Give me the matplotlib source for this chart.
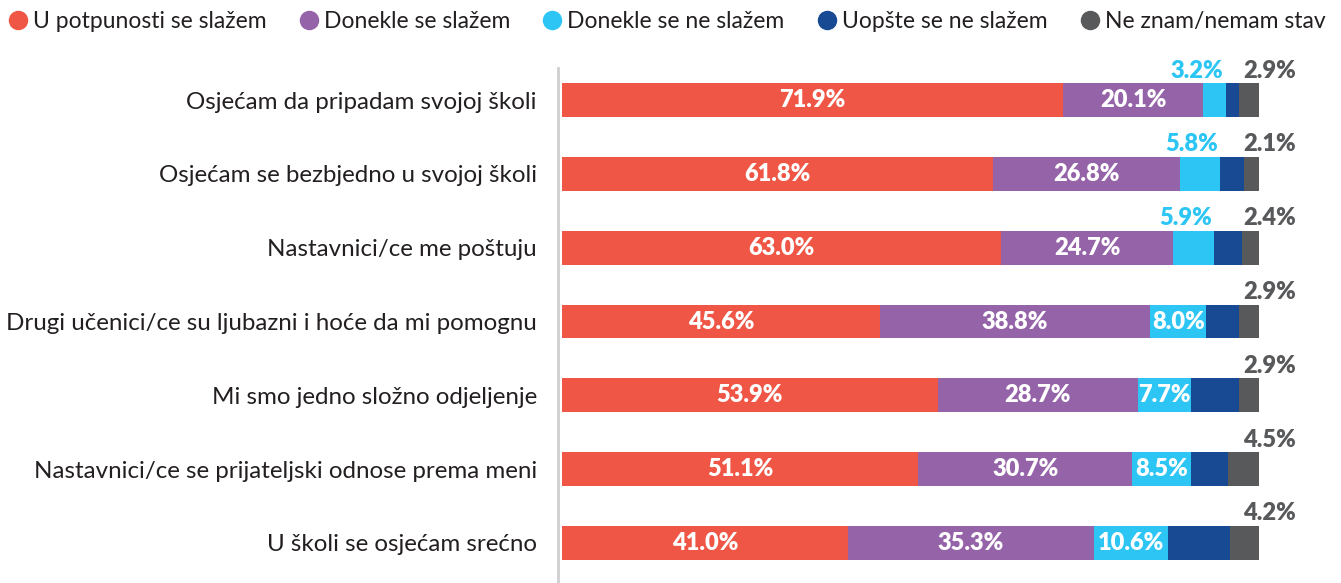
import numpy as np
import matplotlib.pyplot as plt
from matplotlib.lines import Line2D

# categories and answers
categories = [
    "Osjećam da pripadam svojoj školi",
    "Osjećam se bezbjedno u svojoj školi",
    "Nastavnici/ce me poštuju",
    "Drugi učenici/ce su ljubazni i hoće da mi pomognu",
    "Mi smo jedno složno odjeljenje",
    "Nastavnici/ce se prijateljski odnose prema meni",
    "U školi se osjećam srećno",
]
series = ["U potpunosti se slažem", "Donekle se slažem", "Donekle se ne slažem",
          "Uopšte se ne slažem", "Ne znam/nemam stav"]

fully_agree = [71.9, 61.8, 63.0, 45.6, 53.9, 51.1, 41.0]
somewhat_agree = [20.1, 26.8, 24.7, 38.8, 28.7, 30.7, 35.3]
somewhat_disagree = [3.2, 5.8, 5.9, 8.0, 7.7, 8.5, 10.6]
fully_disagree = [1.9, 3.5, 4.0, 4.7, 6.8, 5.2, 8.9]
dont_know = [2.9, 2.1, 2.4, 2.9, 2.9, 4.5, 4.2]

colors = ["#ef5645", "#9563a8", "#2dc5f4", "#174a93", "#58595b"]

plt.rcParams['font.family'] = ['Lato', 'DejaVu Sans']

W, H = 1341, 583
fig = plt.figure(figsize=(W / 100, H / 100), dpi=100)
ax = fig.add_axes([562 / W, 0, (1259 - 562) / W, (583 - 68) / H])

data = np.array([fully_agree, somewhat_agree, somewhat_disagree, fully_disagree, dont_know])
y = np.arange(len(categories))
left = np.zeros(len(categories))
vfs = 17
vw = 'heavy'
for i in range(len(series)):
    ax.barh(y, data[i], left=left, height=0.46, color=colors[i], linewidth=0)
    for j in range(len(categories)):
        v = data[i][j]
        mid = left[j] + v / 2
        if i in (0, 1):
            ax.text(mid, y[j], f"{v:.1f}%", ha='center', va='center', color='white',
                    fontsize=vfs, fontweight=vw)
        elif i == 2:
            if v >= 7:
                ax.text(mid, y[j], f"{v:.1f}%", ha='center', va='center', color='white',
                        fontsize=vfs, fontweight=vw)
            else:
                ax.text(left[j] + v - 0.3, y[j] - 0.40, f"{v:.1f}%", ha='right', va='center',
                        color=colors[2], fontsize=vfs, fontweight=vw)
        elif i == 4:
            ax.text(97.7, y[j] - 0.40, f"{v:.1f}%", ha='left', va='center',
                    color=colors[4], fontsize=vfs, fontweight=vw)
    left += data[i]

for s in ['top', 'right', 'bottom']:
    ax.spines[s].set_visible(False)
ax.spines['left'].set_position(('outward', 3))
ax.spines['left'].set_color('#cfcfd2')
ax.spines['left'].set_linewidth(2)

ax.set_xlim(0, 100)
ax.set_ylim(len(categories) - 1 + 0.542, -0.434)
ax.set_xticks([])
ax.set_yticks(y)
ax.set_yticklabels(categories)
ax.tick_params(axis='y', length=0, pad=15, labelsize=17.4, labelcolor='#231f20')

handles = [Line2D([], [], marker='o', linestyle='', markersize=13, color=c) for c in colors]
fig.legend(handles, series, loc='upper left', bbox_to_anchor=(-0.009, 1.016), ncol=5,
           frameon=False, fontsize=16.5, handletextpad=0.25, columnspacing=1.45,
           handlelength=0.8, labelcolor='#231f20')

fig.savefig("out.png", dpi=100)
